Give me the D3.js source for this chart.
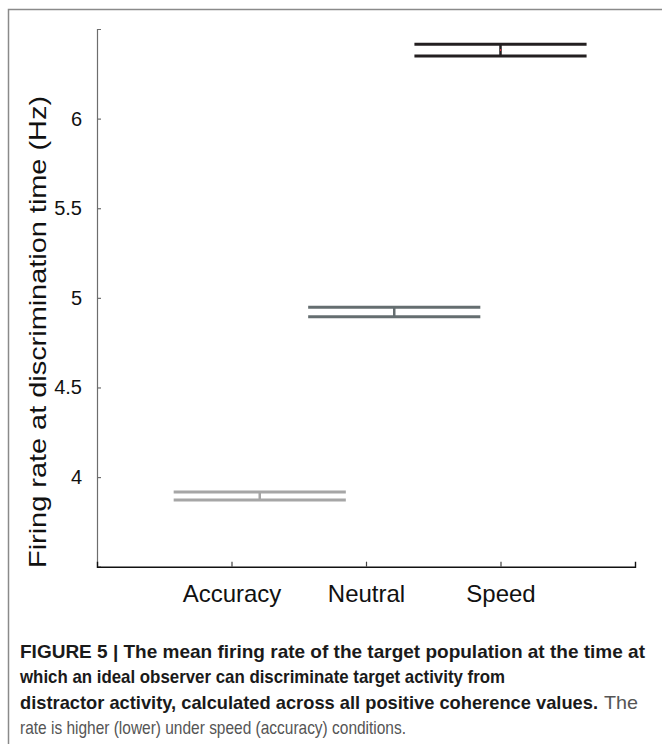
<!DOCTYPE html>
<html>
<head>
<meta charset="utf-8">
<script src="https://cdn.jsdelivr.net/npm/d3@7"></script>
<style>
  body { margin: 0; background: #fff; }
  svg { display: block; }
</style>
</head>
<body>
<svg id="chart" width="662" height="744"></svg>
<script>
// conditions and where the error bars sit on the x axis
const categories = ['Accuracy', 'Neutral', 'Speed'];
const xTicks = [1, 2, 3];
const xCenters = [1.21, 2.21, 3.0];
// upper / lower lines of each error bar (Hz)
const upperValues = [3.917, 4.948, 6.415];
const lowerValues = [3.872, 4.895, 6.350];
const barColors = ['#a6a6a6', '#656e70', '#231f20'];
const yTicks = [4, 4.5, 5, 5.5, 6];

const captionBold = [
    'FIGURE 5 | The mean firing rate of the target population at the time at',
    'which an ideal observer can discriminate target activity from',
    'distractor activity, calculated across all positive coherence values.'
];
const captionRegular = ['The', 'rate is higher (lower) under speed (accuracy) conditions.'];

const svg = d3.select('#chart');

// outer frame (cut off on the right and bottom)
svg.append('rect')
    .attr('x', 8.5)
    .attr('y', 9.5)
    .attr('width', 700)
    .attr('height', 800)
    .attr('fill', 'none')
    .attr('stroke', '#8a8a8a')
    .attr('stroke-width', 1.5);

const x = d3.scaleLinear().domain([0, 4]).range([97, 635]);
const y = d3.scaleLinear().domain([3.5, 6.5]).range([566.7, 29]);

const axisFont = '"Liberation Sans", Arial, sans-serif';

// y axis
const yAxis = svg.append('g')
    .attr('transform', `translate(${x(0)},0)`)
    .call(d3.axisLeft(y)
        .tickValues(yTicks)
        .tickFormat(d => d)
        .tickSizeInner(-4)
        .tickSizeOuter(-4)
        .tickPadding(15));
yAxis.select('.domain').attr('stroke', '#6d6d6d').attr('stroke-width', 1.2);
yAxis.selectAll('.tick line').attr('stroke', '#6d6d6d').attr('stroke-width', 1.2);
yAxis.selectAll('.tick text')
    .attr('font-family', axisFont)
    .attr('font-size', 20)
    .attr('fill', '#111');

// x axis
const xAxis = svg.append('g')
    .attr('transform', `translate(0,${y(3.5)})`)
    .call(d3.axisBottom(x)
        .tickValues(xTicks)
        .tickFormat((d, i) => categories[i])
        .tickSizeInner(-5)
        .tickSizeOuter(-5)
        .tickPadding(10));
xAxis.select('.domain').attr('stroke', '#111').attr('stroke-width', 1.4);
xAxis.selectAll('.tick line').attr('stroke', '#444').attr('stroke-width', 1.2);
xAxis.selectAll('.tick text')
    .attr('font-family', axisFont)
    .attr('font-size', 24)
    .attr('fill', '#111')
    .attr('dy', '1.05em');

// y axis title
svg.append('text')
    .attr('transform', `translate(46,${332}) rotate(-90)`)
    .attr('text-anchor', 'middle')
    .attr('font-family', axisFont)
    .attr('font-size', 24)
    .attr('fill', '#111')
    .attr('textLength', 472)
    .attr('lengthAdjust', 'spacingAndGlyphs')
    .text('Firing rate at discrimination time (Hz)');

// error bars: two horizontal lines joined by a short vertical
const halfWidth = 0.64;
const bars = svg.append('g')
    .selectAll('g')
    .data(categories.map((c, i) => ({
        cat: c,
        xc: xCenters[i],
        hi: upperValues[i],
        lo: lowerValues[i],
        color: barColors[i]
    })))
    .join('g');

bars.append('line')
    .attr('x1', d => x(d.xc))
    .attr('x2', d => x(d.xc))
    .attr('y1', d => y(d.hi))
    .attr('y2', d => y(d.lo))
    .attr('stroke', d => d.color)
    .attr('stroke-width', 2.5);

['hi', 'lo'].forEach(key => {
    bars.append('line')
        .attr('x1', d => x(d.xc - halfWidth))
        .attr('x2', d => x(d.xc + halfWidth))
        .attr('y1', d => y(d[key]))
        .attr('y2', d => y(d[key]))
        .attr('stroke', d => d.color)
        .attr('stroke-width', 3);
});

// small red mean mark on the speed bar
bars.filter(d => d.cat === 'Speed')
    .append('line')
    .attr('x1', d => x(d.xc))
    .attr('x2', d => x(d.xc))
    .attr('y1', d => y((d.hi + d.lo) / 2) - 1)
    .attr('y2', d => y((d.hi + d.lo) / 2) + 1)
    .attr('stroke', '#e0303a')
    .attr('stroke-width', 1);

// caption
const capFont = '"Liberation Sans Narrow", "Liberation Sans", Arial, sans-serif';
const capX = 20;
const capY = [658, 683, 709, 734];
const boldWidths = [625, 485, 578];

captionBold.forEach((line, i) => {
    svg.append('text')
        .attr('x', capX)
        .attr('y', capY[i])
        .attr('font-family', capFont)
        .attr('font-weight', 'bold')
        .attr('font-size', 18.5)
        .attr('fill', '#1a1a1a')
        .attr('textLength', boldWidths[i])
        .attr('lengthAdjust', 'spacingAndGlyphs')
        .text(line);
});

svg.append('text')
    .attr('x', 604)
    .attr('y', capY[2])
    .attr('font-family', capFont)
    .attr('font-size', 18.5)
    .attr('fill', '#555')
    .attr('textLength', 34)
    .attr('lengthAdjust', 'spacingAndGlyphs')
    .text(captionRegular[0]);

svg.append('text')
    .attr('x', capX)
    .attr('y', capY[3])
    .attr('font-family', capFont)
    .attr('font-size', 18.5)
    .attr('fill', '#555')
    .attr('textLength', 386)
    .attr('lengthAdjust', 'spacingAndGlyphs')
    .text(captionRegular[1]);
</script>
</body>
</html>
